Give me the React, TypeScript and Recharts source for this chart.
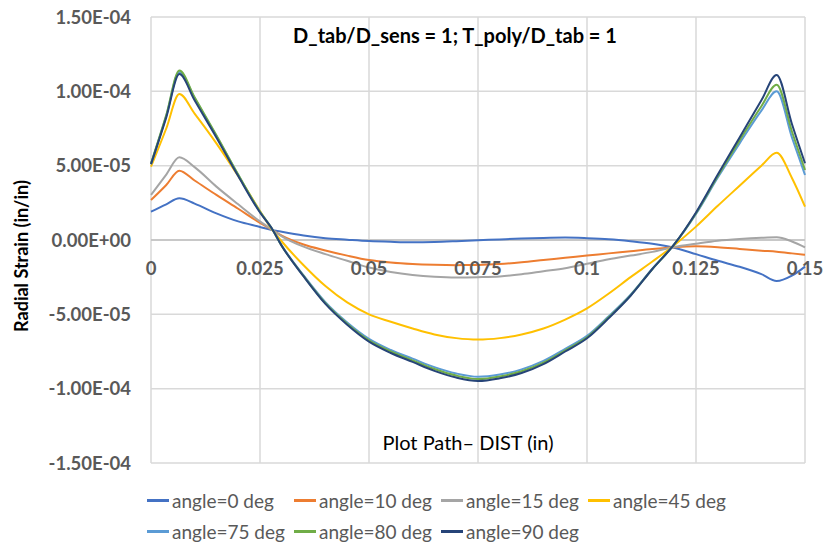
import { LineChart, Line, XAxis, YAxis, CartesianGrid, ReferenceLine } from "recharts"

// values of the strain are given in units of 1e-5 in/in
const SCALE = 1e-5

const dist = [
  0, 0.0035, 0.0065, 0.01, 0.015, 0.02, 0.025, 0.0275, 0.03, 0.035, 0.04, 0.045,
  0.05, 0.055, 0.06, 0.065, 0.07, 0.075, 0.08, 0.085, 0.09, 0.095, 0.1, 0.105,
  0.11, 0.115, 0.12, 0.125, 0.13, 0.135, 0.14, 0.1435, 0.147, 0.15,
]

const angle0 = [
  1.9, 2.4, 2.8, 2.45, 1.79, 1.25, 0.88, 0.69, 0.55, 0.3, 0.12, 0.02,
  -0.07, -0.12, -0.15, -0.13, -0.08, -0.02, 0.04, 0.1, 0.14, 0.16, 0.12, 0.05,
  -0.08, -0.25, -0.52, -0.95, -1.4, -1.8, -2.3, -2.76, -2.4, -1.79,
]
const angle10 = [
  2.69, 3.7, 4.66, 4.0, 3.03, 2.1, 1.15, 0.73, 0.3, -0.3, -0.7, -1.05,
  -1.35, -1.52, -1.62, -1.67, -1.69, -1.68, -1.62, -1.5, -1.35, -1.2, -1.05, -0.9,
  -0.75, -0.6, -0.48, -0.42, -0.48, -0.6, -0.72, -0.79, -0.9, -1.0,
]
const angle15 = [
  3.03, 4.4, 5.56, 4.9, 3.59, 2.4, 1.25, 0.74, 0.25, -0.45, -0.95, -1.4,
  -1.85, -2.15, -2.35, -2.47, -2.52, -2.5, -2.45, -2.3, -2.1, -1.9, -1.6, -1.3,
  -1.05, -0.8, -0.47, -0.25, -0.05, 0.07, 0.15, 0.18, -0.1, -0.49,
]
const angle45 = [
  4.93, 7.5, 9.82, 8.5, 6.5, 4.3, 1.95, 0.81, -0.1, -1.7, -3.1, -4.2,
  -5.0, -5.5, -5.95, -6.35, -6.6, -6.7, -6.6, -6.35, -5.95, -5.35, -4.6, -3.6,
  -2.5, -1.45, -0.35, 0.9, 2.3, 3.65, 5.0, 5.87, 4.17, 2.24,
]
const angle75 = [
  5.1, 8.35, 11.3, 9.55, 7.0, 4.38, 1.9, 0.87, -0.38, -2.38, -4.18, -5.55,
  -6.65, -7.4, -7.98, -8.55, -8.98, -9.2, -9.05, -8.7, -8.13, -7.32, -6.45, -5.12,
  -3.67, -1.93, -0.3, 1.75, 4.2, 6.5, 8.7, 10.0, 6.9, 4.37,
]
const angle80 = [
  5.15, 8.4, 11.4, 9.6, 7.05, 4.4, 1.9, 0.87, -0.4, -2.42, -4.25, -5.63,
  -6.75, -7.5, -8.1, -8.68, -9.12, -9.35, -9.18, -8.83, -8.25, -7.42, -6.55, -5.2,
  -3.72, -1.95, -0.3, 1.8, 4.3, 6.7, 9.0, 10.45, 7.3, 4.71,
]
const angle90 = [
  5.1, 8.25, 11.16, 9.4, 6.9, 4.3, 1.85, 0.87, -0.4, -2.45, -4.3, -5.7,
  -6.84, -7.6, -8.2, -8.8, -9.25, -9.48, -9.3, -8.95, -8.35, -7.5, -6.61, -5.25,
  -3.75, -1.95, -0.3, 1.85, 4.4, 6.9, 9.4, 11.1, 7.8, 5.16,
]

const xTicks = [0, 0.025, 0.05, 0.075, 0.1, 0.125, 0.15]
const yTicks = [-1.5e-4, -1e-4, -5e-5, 0, 5e-5, 1e-4, 1.5e-4]

const series = [
  { key: "a0", name: "angle=0 deg", color: "#4472C4", values: angle0 },
  { key: "a10", name: "angle=10 deg", color: "#ED7D31", values: angle10 },
  { key: "a15", name: "angle=15 deg", color: "#A5A5A5", values: angle15 },
  { key: "a45", name: "angle=45 deg", color: "#FFC000", values: angle45 },
  { key: "a75", name: "angle=75 deg", color: "#5B9BD5", values: angle75 },
  { key: "a80", name: "angle=80 deg", color: "#70AD47", values: angle80 },
  { key: "a90", name: "angle=90 deg", color: "#264478", values: angle90 },
]

const data = dist.map((x, i) => {
  const row: Record<string, number> = { x }
  series.forEach((s) => {
    row[s.key] = s.values[i] * SCALE
  })
  return row
})

const W = 823
const H = 543
const XAXIS_H = 30
const margin = { top: 17, right: 18, bottom: 50, left: 0 }
const PLOT_H = H - margin.top - margin.bottom - XAXIS_H
const FONT = "Lato, 'Open Sans', sans-serif"

function sci(v: number) {
  if (v === 0) return "0.00E+00"
  const e = Math.floor(Math.log10(Math.abs(v)) + 1e-9)
  const m = v / Math.pow(10, e)
  const ae = Math.abs(e)
  return `${m.toFixed(2)}E${e < 0 ? "-" : "+"}${ae < 10 ? "0" + ae : ae}`
}

// Excel draws the category labels next to the zero line, not at the bottom
function XTick(props: any) {
  const { x, y, payload } = props
  return (
    <text
      x={x}
      y={y - PLOT_H / 2 + 27}
      textAnchor="middle"
      fill="#595959"
      fontFamily={FONT}
      fontWeight={700}
      fontSize={18.5}
    >
      {String(payload.value)}
    </text>
  )
}

export default function App() {
  return (
    <div style={{ position: "absolute", left: 0, top: 0, width: W, height: H, background: "#fff", fontFamily: FONT }}>
      <LineChart width={W} height={H} data={data} margin={margin}>
        <CartesianGrid stroke="#d9d9d9" strokeWidth={1.5} />
        <XAxis
          dataKey="x"
          type="number"
          domain={[0, 0.15]}
          ticks={xTicks}
          height={XAXIS_H}
          axisLine={false}
          tickLine={false}
          tick={<XTick />}
          interval={0}
        />
        <YAxis
          type="number"
          domain={[-1.5e-4, 1.5e-4]}
          ticks={yTicks}
          width={151}
          axisLine={false}
          tickLine={false}
          tickMargin={14}
          tickFormatter={sci}
          tick={{ fill: "#595959", fontFamily: FONT, fontWeight: 700, fontSize: 18.5 }}
          interval={0}
        />
        <ReferenceLine y={0} stroke="#bfbfbf" strokeWidth={1.5} />
        {series.map((s) => (
          <Line
            key={s.key}
            dataKey={s.key}
            name={s.name}
            type="monotone"
            stroke={s.color}
            strokeWidth={2}
            dot={false}
            isAnimationActive={false}
          />
        ))}
      </LineChart>

      <div
        style={{
          position: "absolute", left: 255, top: 23, width: 400, textAlign: "center",
          fontSize: 20, fontWeight: 700, color: "#000", whiteSpace: "nowrap",
        }}
      >
        D_tab/D_sens = 1; T_poly/D_tab = 1
      </div>

      <div
        style={{
          position: "absolute", left: 318, top: 430, width: 300, textAlign: "center",
          fontSize: 20, color: "#000", whiteSpace: "nowrap",
        }}
      >
        Plot Path– DIST (in)
      </div>

      <div
        style={{
          position: "absolute", left: 21 - 150, top: 256 - 12, width: 300, height: 24,
          lineHeight: "24px", textAlign: "center", transform: "rotate(-90deg)",
          fontSize: 18, fontWeight: 700, color: "#000", whiteSpace: "nowrap",
        }}
      >
        Radial Strain (in/in)
      </div>

      <div style={{ position: "absolute", left: 147, top: 485, width: 600, display: "flex", flexWrap: "wrap" }}>
        {series.map((s) => (
          <div key={s.key} style={{ width: 147, height: 31, display: "flex", alignItems: "center" }}>
            <div style={{ width: 22, height: 3, background: s.color, marginRight: 3 }} />
            <span style={{ fontSize: 19, lineHeight: "22px", color: "#595959", whiteSpace: "nowrap" }}>{s.name}</span>
          </div>
        ))}
      </div>
    </div>
  )
}
